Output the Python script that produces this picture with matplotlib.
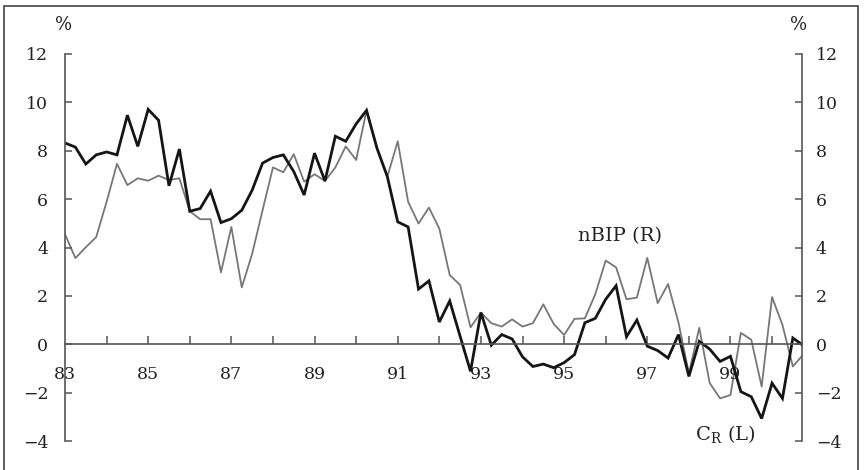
import numpy as np
import matplotlib
matplotlib.use("Agg")
import matplotlib.pyplot as plt
from matplotlib.patches import Rectangle
from matplotlib.ticker import FixedLocator, FuncFormatter

plt.rcParams['font.family'] = 'DejaVu Serif'
plt.rcParams['mathtext.fontset'] = 'dejavuserif'

# quarterly data, 1983Q1 .. 2000Q4
start_year = 1983
c_r = [8.32, 8.15, 7.45, 7.83, 7.95, 7.83, 9.47, 8.18, 9.71, 9.26, 6.55, 8.07,
       5.50, 5.61, 6.33, 5.03, 5.19, 5.54, 6.37, 7.49, 7.72, 7.83, 7.14, 6.17,
       7.90, 6.75, 8.60, 8.39, 9.11, 9.67, 8.11, 6.93, 5.06, 4.85, 2.28, 2.62,
       0.92, 1.79, 0.33, -1.12, 1.31, -0.04, 0.40, 0.22, -0.52, -0.92, -0.82, -0.97,
       -0.76, -0.43, 0.89, 1.07, 1.86, 2.42, 0.31, 1.00, -0.08, -0.26, -0.57, 0.40,
       -1.33, 0.12, -0.20, -0.71, -0.50, -1.96, -2.17, -3.07, -1.61, -2.24, 0.26, -0.05]
nbip = [4.55, 3.56, 4.01, 4.43, 5.89, 7.46, 6.58, 6.86, 6.76, 6.97, 6.79, 6.86,
        5.50, 5.17, 5.17, 2.97, 4.85, 2.35, 3.74, 5.54, 7.31, 7.11, 7.86, 6.72,
        7.03, 6.75, 7.31, 8.18, 7.62, 9.67, 8.10, 6.93, 8.39, 5.89, 4.99, 5.65,
        4.78, 2.86, 2.45, 0.70, 1.31, 0.87, 0.73, 1.03, 0.73, 0.87, 1.65, 0.84,
        0.38, 1.05, 1.07, 2.07, 3.46, 3.18, 1.86, 1.93, 3.57, 1.70, 2.49, 0.90,
        -1.20, 0.68, -1.60, -2.24, -2.10, 0.47, 0.19, -1.75, 1.95, 0.80, -0.92, -0.42]
quarters = start_year + 0.25 * np.arange(len(c_r))

yticks = [-4, -2, 0, 2, 4, 6, 8, 10, 12]
year_ticks = list(range(1984, 2001))
year_labels = list(range(1983, 2000, 2))

axis_col = '#555555'
txt_col = '#222222'

fig = plt.figure(figsize=(8.65, 4.70), dpi=100)
ax = fig.add_axes([65 / 865, 29 / 470, 737 / 865, 387 / 470])
ax2 = ax.twinx()

ax.plot(quarters, c_r, color='#151515', lw=2.0, solid_joinstyle='miter')
ax2.plot(quarters, nbip, color='#777777', lw=1.3)

# black line above grey
ax.set_zorder(ax2.get_zorder() + 1)
ax.patch.set_visible(False)

for a in (ax, ax2):
    a.set_xlim(1983, 2000.72)
    a.set_ylim(-4, 12)
    a.set_yticks(yticks)
    a.yaxis.set_major_formatter(FuncFormatter(lambda v, p: f"{int(v)}".replace('-', '\u2212')))
    for s in a.spines.values():
        s.set_color(axis_col)
        s.set_linewidth(1.2)
    a.spines['top'].set_visible(False)

ax.spines['right'].set_visible(False)
ax.spines['bottom'].set_position(('data', 0))
ax2.spines['bottom'].set_visible(False)
ax2.spines['left'].set_visible(False)

ax.xaxis.set_major_locator(FixedLocator([1983] + year_ticks))
ax.xaxis.set_major_formatter(FuncFormatter(
    lambda v, p: f"{int(round(v)) % 100:02d}" if int(round(v)) in year_labels else ""))
ax.tick_params(axis='x', direction='in', length=6, width=1.1, color=axis_col,
               pad=16, labelsize=12.5, labelcolor=txt_col)
ax.tick_params(axis='y', direction='in', length=5, width=1.1, color=axis_col,
               pad=12, labelsize=12.5, labelcolor=txt_col)
ax2.tick_params(axis='y', direction='in', length=5, width=1.1, color=axis_col,
                pad=10, labelsize=12.5, labelcolor=txt_col)
ax2.tick_params(axis='x', bottom=False, labelbottom=False)
# no tick at the very left corner
ax.xaxis.get_major_ticks()[0].tick1line.set_visible(False)

ax.text(1995.33, 4.25, "nBIP (R)", fontsize=14, va='baseline', ha='left', color=txt_col)
ax.text(1998.14, -3.97, r"C$_\mathregular{R}$ (L)", fontsize=14, va='baseline', ha='left',
        color=txt_col)

fig.text(64 / 865, 1 - 25 / 470, "%", fontsize=13, ha='center', va='center', color=txt_col)
fig.text(799 / 865, 1 - 25 / 470, "%", fontsize=13, ha='center', va='center', color=txt_col)

fig.patches.append(Rectangle((4 / 865, -0.02), 854 / 865, 1.02 - 6 / 470,
                             transform=fig.transFigure, fill=False,
                             edgecolor='#444444', lw=1.2))

fig.savefig("out.png", dpi=100)
